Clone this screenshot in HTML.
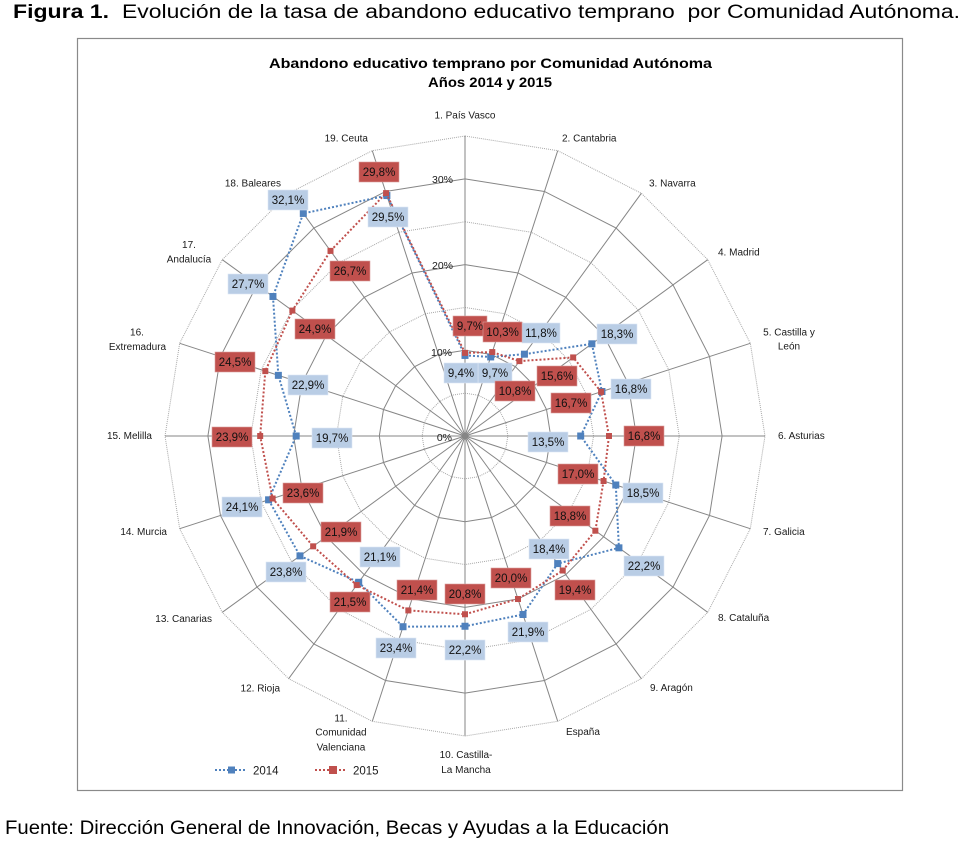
<!DOCTYPE html>
<html>
<head>
<meta charset="utf-8">
<style>
html,body{margin:0;padding:0;background:#fff;}
body{width:980px;height:843px;overflow:hidden;}
svg{display:block;}
.cat{font-family:"Liberation Sans",sans-serif;font-size:10px;fill:#1a1a1a;}
.ax{font-family:"Liberation Sans",sans-serif;font-size:10.5px;fill:#1a1a1a;text-anchor:end;}
.lb{font-family:"Liberation Sans",sans-serif;font-size:11.5px;fill:#111;text-anchor:middle;}
.rb{fill:#c0504d;stroke:#d9a09e;stroke-width:0.6;}
.bb{fill:#b9cde5;stroke:#dde7f3;stroke-width:0.6;}
</style>
</head>
<body>
<svg width="980" height="843" viewBox="0 0 980 843" xmlns="http://www.w3.org/2000/svg">
<defs>
<rect id="bm" x="-3.5" y="-3.5" width="7" height="7" fill="#4f81bd"/>
<rect id="rm" x="-3" y="-3" width="6" height="6" fill="#c0504d"/>
</defs>
<rect x="0" y="0" width="980" height="843" fill="#fff"/>

<!-- header -->
<text x="13" y="18" font-family="Liberation Sans, sans-serif" font-size="19" font-weight="bold" fill="#000" textLength="96" lengthAdjust="spacingAndGlyphs">Figura 1.</text>
<text x="122" y="18" font-family="Liberation Sans, sans-serif" font-size="19" fill="#000" textLength="838" lengthAdjust="spacingAndGlyphs" style="white-space:pre">Evolución de la tasa de abandono educativo temprano  por Comunidad Autónoma.</text>

<!-- frame -->
<rect x="77.5" y="38.5" width="825" height="752" fill="#fff" stroke="#8a8a8a" stroke-width="1.2"/>

<!-- chart title -->
<text x="490.5" y="68" text-anchor="middle" font-family="Liberation Sans, sans-serif" font-size="14" font-weight="bold" fill="#000" textLength="443" lengthAdjust="spacingAndGlyphs">Abandono educativo temprano por Comunidad Autónoma</text>
<text x="490" y="87" text-anchor="middle" font-family="Liberation Sans, sans-serif" font-size="14" font-weight="bold" fill="#000" textLength="124" lengthAdjust="spacingAndGlyphs">Años 2014 y 2015</text>

<!-- dotted rings -->
<g fill="none" stroke="#a8a8a8" stroke-width="1" stroke-dasharray="1 1">
<polygon points="465,393.15 478.24,395.25 490.19,401.33 499.67,410.81 505.75,422.76 507.85,436 505.75,449.24 499.67,461.19 490.19,470.67 478.24,476.75 465,478.85 451.76,476.75 439.81,470.67 430.33,461.19 424.25,449.24 422.15,436 424.25,422.76 430.33,410.81 439.81,401.33 451.76,395.25"/>
<polygon points="465,307.45 504.72,313.74 540.56,332 569,360.44 587.26,396.28 593.55,436 587.26,475.72 569,511.56 540.56,540 504.72,558.26 465,564.55 425.28,558.26 389.44,540 361,511.56 342.74,475.72 336.45,436 342.74,396.28 361,360.44 389.44,332 425.28,313.74"/>
<polygon points="465,221.75 531.21,232.24 590.93,262.67 638.33,310.07 668.76,369.79 679.25,436 668.76,502.21 638.33,561.93 590.93,609.33 531.21,639.76 465,650.25 398.79,639.76 339.07,609.33 291.67,561.93 261.24,502.21 250.75,436 261.24,369.79 291.67,310.07 339.07,262.67 398.79,232.24"/>
<polygon points="465,136 557.71,150.68 641.34,193.29 707.71,259.66 750.32,343.29 765,436 750.32,528.71 707.71,612.34 641.34,678.71 557.71,721.32 465,736 372.29,721.32 288.66,678.71 222.29,612.34 179.68,528.71 165,436 179.68,343.29 222.29,259.66 288.66,193.29 372.29,150.68"/>
</g>

<!-- solid rings -->
<g fill="none" stroke="#868686" stroke-width="1">
<polygon points="465,350.3 491.48,354.49 515.37,366.67 534.33,385.63 546.51,409.52 550.7,436 546.51,462.48 534.33,486.37 515.37,505.33 491.48,517.51 465,521.7 438.52,517.51 414.63,505.33 395.67,486.37 383.49,462.48 379.3,436 383.49,409.52 395.67,385.63 414.63,366.67 438.52,354.49"/>
<polygon points="465,264.6 517.97,272.99 565.75,297.33 603.67,335.25 628.01,383.03 636.4,436 628.01,488.97 603.67,536.75 565.75,574.67 517.97,599.01 465,607.4 412.03,599.01 364.25,574.67 326.33,536.75 301.99,488.97 293.6,436 301.99,383.03 326.33,335.25 364.25,297.33 412.03,272.99"/>
<polygon points="465,178.9 544.45,191.48 616.12,228 673,284.88 709.52,356.55 722.1,436 709.52,515.45 673,587.12 616.12,644 544.45,680.52 465,693.1 385.55,680.52 313.88,644 257,587.12 220.48,515.45 207.9,436 220.48,356.55 257,284.88 313.88,228 385.55,191.48"/>
</g>

<!-- spokes -->
<path fill="none" stroke="#868686" stroke-width="1" d="M465,436L465,136 M465,436L557.71,150.68 M465,436L641.34,193.29 M465,436L707.71,259.66 M465,436L750.32,343.29 M465,436L765,436 M465,436L750.32,528.71 M465,436L707.71,612.34 M465,436L641.34,678.71 M465,436L557.71,721.32 M465,436L465,736 M465,436L372.29,721.32 M465,436L288.66,678.71 M465,436L222.29,612.34 M465,436L179.68,528.71 M465,436L165,436 M465,436L179.68,343.29 M465,436L222.29,259.66 M465,436L288.66,193.29 M465,436L372.29,150.68"/>

<!-- axis labels -->
<text class="ax" x="452" y="441">0%</text>
<text class="ax" x="452" y="356">10%</text>
<text class="ax" x="453" y="269">20%</text>
<text class="ax" x="453" y="183">30%</text>

<!-- category labels -->
<text class="cat" x="465" y="118.5" text-anchor="middle">1. País Vasco</text>
<text class="cat" x="562" y="141.5">2. Cantabria</text>
<text class="cat" x="649" y="186.5">3. Navarra</text>
<text class="cat" x="718" y="255.5">4. Madrid</text>
<text class="cat" x="789" y="335.5" text-anchor="middle">5. Castilla y</text>
<text class="cat" x="789" y="349.5" text-anchor="middle">León</text>
<text class="cat" x="778" y="439">6. Asturias</text>
<text class="cat" x="763" y="535">7. Galicia</text>
<text class="cat" x="718" y="621">8. Cataluña</text>
<text class="cat" x="650" y="691">9. Aragón</text>
<text class="cat" x="566" y="735">España</text>
<text class="cat" x="466" y="758" text-anchor="middle">10. Castilla-</text>
<text class="cat" x="466" y="773" text-anchor="middle">La Mancha</text>
<text class="cat" x="341" y="721.5" text-anchor="middle">11.</text>
<text class="cat" x="341" y="735.5" text-anchor="middle">Comunidad</text>
<text class="cat" x="341" y="750.5" text-anchor="middle">Valenciana</text>
<text class="cat" x="280" y="691.5" text-anchor="end">12. Rioja</text>
<text class="cat" x="212" y="622" text-anchor="end">13. Canarias</text>
<text class="cat" x="167" y="535" text-anchor="end">14. Murcia</text>
<text class="cat" x="152" y="439" text-anchor="end">15. Melilla</text>
<text class="cat" x="137" y="335.5" text-anchor="middle">16.</text>
<text class="cat" x="137.5" y="350" text-anchor="middle">Extremadura</text>
<text class="cat" x="189" y="248" text-anchor="middle">17.</text>
<text class="cat" x="189" y="262.5" text-anchor="middle">Andalucía</text>
<text class="cat" x="281" y="186.5" text-anchor="end">18. Baleares</text>
<text class="cat" x="368" y="141.5" text-anchor="end">19. Ceuta</text>

<!-- series 2014 -->
<polygon fill="none" stroke="#4f81bd" stroke-width="2" stroke-dasharray="2 2" points="465,355.44 490.69,356.94 524.44,354.19 591.88,343.82 601.93,391.51 580.7,436 615.79,484.99 618.92,547.83 557.69,563.57 523,614.5 465,626.25 403.03,626.72 358.71,582.29 299.99,555.89 268.57,499.82 296.17,436 278.36,375.36 272.95,296.47 303.3,213.44 386.87,195.55"/>
<g>
<use href="#bm" x="465" y="355.44"/><use href="#bm" x="490.69" y="356.94"/><use href="#bm" x="524.44" y="354.19"/><use href="#bm" x="591.88" y="343.82"/><use href="#bm" x="601.93" y="391.51"/><use href="#bm" x="580.7" y="436"/><use href="#bm" x="615.79" y="484.99"/><use href="#bm" x="618.92" y="547.83"/><use href="#bm" x="557.69" y="563.57"/><use href="#bm" x="523" y="614.5"/><use href="#bm" x="465" y="626.25"/><use href="#bm" x="403.03" y="626.72"/><use href="#bm" x="358.71" y="582.29"/><use href="#bm" x="299.99" y="555.89"/><use href="#bm" x="268.57" y="499.82"/><use href="#bm" x="296.17" y="436"/><use href="#bm" x="278.36" y="375.36"/><use href="#bm" x="272.95" y="296.47"/><use href="#bm" x="303.3" y="213.44"/><use href="#bm" x="386.87" y="195.55"/>
</g>

<!-- series 2015 -->
<polygon fill="none" stroke="#c0504d" stroke-width="2" stroke-dasharray="2 2" points="465,352.87 492.28,352.05 519.4,361.12 573.16,357.42 601.11,391.77 608.98,436 603.56,481.02 595.35,530.7 562.73,570.51 517.97,599.01 465,614.26 408.33,610.42 356.69,585.07 313.16,546.32 272.65,498.5 260.18,436 265.31,371.12 292.36,310.57 330.5,250.88 386.08,193.11"/>
<g>
<use href="#rm" x="465" y="352.87"/><use href="#rm" x="492.28" y="352.05"/><use href="#rm" x="519.4" y="361.12"/><use href="#rm" x="573.16" y="357.42"/><use href="#rm" x="601.11" y="391.77"/><use href="#rm" x="608.98" y="436"/><use href="#rm" x="603.56" y="481.02"/><use href="#rm" x="595.35" y="530.7"/><use href="#rm" x="562.73" y="570.51"/><use href="#rm" x="517.97" y="599.01"/><use href="#rm" x="465" y="614.26"/><use href="#rm" x="408.33" y="610.42"/><use href="#rm" x="356.69" y="585.07"/><use href="#rm" x="313.16" y="546.32"/><use href="#rm" x="272.65" y="498.5"/><use href="#rm" x="260.18" y="436"/><use href="#rm" x="265.31" y="371.12"/><use href="#rm" x="292.36" y="310.57"/><use href="#rm" x="330.5" y="250.88"/><use href="#rm" x="386.08" y="193.11"/>
</g>

<!-- blue data labels -->
<g>
<rect class="bb" x="368" y="207" width="40" height="20"/><text class="lb" x="388" y="221">29,5%</text>
<rect class="bb" x="268" y="190" width="40" height="20"/><text class="lb" x="288" y="204">32,1%</text>
<rect class="bb" x="228" y="274" width="40" height="20"/><text class="lb" x="248" y="288">27,7%</text>
<rect class="bb" x="288" y="375" width="40" height="20"/><text class="lb" x="308" y="389">22,9%</text>
<rect class="bb" x="312" y="428" width="40" height="20"/><text class="lb" x="332" y="442">19,7%</text>
<rect class="bb" x="222" y="497" width="40" height="20"/><text class="lb" x="242" y="511">24,1%</text>
<rect class="bb" x="266" y="562" width="40" height="20"/><text class="lb" x="286" y="576">23,8%</text>
<rect class="bb" x="360" y="547" width="40" height="20"/><text class="lb" x="380" y="561">21,1%</text>
<rect class="bb" x="376" y="638" width="40" height="20"/><text class="lb" x="396" y="652">23,4%</text>
<rect class="bb" x="445" y="640" width="40" height="20"/><text class="lb" x="465" y="654">22,2%</text>
<rect class="bb" x="508" y="622" width="40" height="20"/><text class="lb" x="528" y="636">21,9%</text>
<rect class="bb" x="529" y="539" width="40" height="20"/><text class="lb" x="549" y="553">18,4%</text>
<rect class="bb" x="624" y="556" width="40" height="20"/><text class="lb" x="644" y="570">22,2%</text>
<rect class="bb" x="623" y="483" width="40" height="20"/><text class="lb" x="643" y="497">18,5%</text>
<rect class="bb" x="528" y="432" width="40" height="20"/><text class="lb" x="548" y="446">13,5%</text>
<rect class="bb" x="611" y="379" width="40" height="20"/><text class="lb" x="631" y="393">16,8%</text>
<rect class="bb" x="597" y="324" width="40" height="20"/><text class="lb" x="617" y="338">18,3%</text>
<rect class="bb" x="522" y="323" width="38" height="20"/><text class="lb" x="541" y="337">11,8%</text>
<rect class="bb" x="478" y="363" width="34" height="20"/><text class="lb" x="495" y="377">9,7%</text>
<rect class="bb" x="444" y="363" width="34" height="20"/><text class="lb" x="461" y="377">9,4%</text>
</g>

<!-- red data labels -->
<g>
<rect class="rb" x="359" y="162" width="40" height="20"/><text class="lb" x="379" y="176">29,8%</text>
<rect class="rb" x="330" y="261" width="40" height="20"/><text class="lb" x="350" y="275">26,7%</text>
<rect class="rb" x="295" y="319" width="40" height="20"/><text class="lb" x="315" y="333">24,9%</text>
<rect class="rb" x="215" y="352" width="40" height="20"/><text class="lb" x="235" y="366">24,5%</text>
<rect class="rb" x="212" y="427" width="40" height="20"/><text class="lb" x="232" y="441">23,9%</text>
<rect class="rb" x="283" y="483" width="40" height="20"/><text class="lb" x="303" y="497">23,6%</text>
<rect class="rb" x="321" y="522" width="40" height="20"/><text class="lb" x="341" y="536">21,9%</text>
<rect class="rb" x="330" y="592" width="40" height="20"/><text class="lb" x="350" y="606">21,5%</text>
<rect class="rb" x="397" y="580" width="40" height="20"/><text class="lb" x="417" y="594">21,4%</text>
<rect class="rb" x="445" y="584" width="40" height="20"/><text class="lb" x="465" y="598">20,8%</text>
<rect class="rb" x="491" y="568" width="40" height="20"/><text class="lb" x="511" y="582">20,0%</text>
<rect class="rb" x="555" y="580" width="40" height="20"/><text class="lb" x="575" y="594">19,4%</text>
<rect class="rb" x="550" y="506" width="40" height="20"/><text class="lb" x="570" y="520">18,8%</text>
<rect class="rb" x="558" y="464" width="40" height="20"/><text class="lb" x="578" y="478">17,0%</text>
<rect class="rb" x="624" y="426" width="40" height="20"/><text class="lb" x="644" y="440">16,8%</text>
<rect class="rb" x="551" y="393" width="40" height="20"/><text class="lb" x="571" y="407">16,7%</text>
<rect class="rb" x="537" y="366" width="40" height="20"/><text class="lb" x="557" y="380">15,6%</text>
<rect class="rb" x="495" y="381" width="40" height="20"/><text class="lb" x="515" y="395">10,8%</text>
<rect class="rb" x="453" y="316" width="34" height="20"/><text class="lb" x="470" y="330">9,7%</text>
<rect class="rb" x="483" y="322" width="39" height="20"/><text class="lb" x="502.5" y="336">10,3%</text>
</g>

<!-- legend -->
<line x1="215" y1="770" x2="247" y2="770" stroke="#4f81bd" stroke-width="2" stroke-dasharray="2 2"/>
<use href="#bm" x="231.5" y="770"/>
<text x="253" y="774.5" font-family="Liberation Sans, sans-serif" font-size="11.5" fill="#1a1a1a">2014</text>
<line x1="315" y1="770" x2="347" y2="770" stroke="#c0504d" stroke-width="2" stroke-dasharray="2 2"/>
<rect x="329" y="766" width="8" height="8" fill="#c0504d"/>
<text x="353" y="774.5" font-family="Liberation Sans, sans-serif" font-size="11.5" fill="#1a1a1a">2015</text>

<!-- source -->
<text x="5" y="834" font-family="Liberation Sans, sans-serif" font-size="19.5" fill="#000" textLength="664" lengthAdjust="spacingAndGlyphs">Fuente: Dirección General de Innovación, Becas y Ayudas a la Educación</text>
</svg>
</body>
</html>
